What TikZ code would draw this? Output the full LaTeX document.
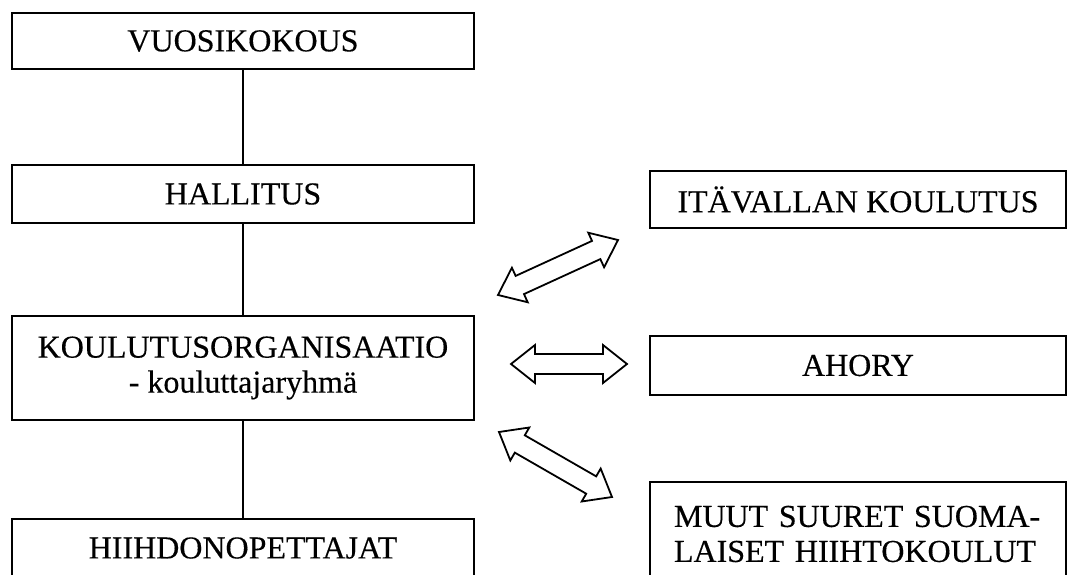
\documentclass[tikz,border=0pt]{standalone}
\usepackage{fontspec}
\setmainfont[FakeBold=0.3]{Liberation Serif}
\usetikzlibrary{calc}
\newcommand\arrHL{24pt}
\newcommand\arrHW{19pt}
\newcommand\arrSW{10pt}
\newcommand\blockarrow[2]{%
  \draw[blockarr]
    (#1)
    -- ($ ($(#1)!\arrHL!(#2)$)!\arrHW!90:(#2) $)
    -- ($ ($(#1)!\arrHL!(#2)$)!\arrSW!90:(#2) $)
    -- ($ ($(#2)!\arrHL!(#1)$)!\arrSW!-90:(#1) $)
    -- ($ ($(#2)!\arrHL!(#1)$)!\arrHW!-90:(#1) $)
    -- (#2)
    -- ($ ($(#2)!\arrHL!(#1)$)!\arrHW!90:(#1) $)
    -- ($ ($(#2)!\arrHL!(#1)$)!\arrSW!90:(#1) $)
    -- ($ ($(#1)!\arrHL!(#2)$)!\arrSW!-90:(#2) $)
    -- ($ ($(#1)!\arrHL!(#2)$)!\arrHW!-90:(#2) $)
    -- cycle;}
\begin{document}
\begin{tikzpicture}[x=1pt,y=-1pt,
  box/.style={draw, line width=1.7pt, inner sep=0pt,
    font=\fontsize{32}{35}\selectfont},
  leftbox/.style={box, minimum width=462pt},
  rightbox/.style={box, minimum width=416pt},
  conn/.style={line width=1.4pt},
  blockarr/.style={line width=1.8pt, line join=miter}]
\useasboundingbox (0,0) rectangle (1069,575);
\fill[white] (0,0) rectangle (1069,575);
% left column
\node[leftbox, minimum height=56pt] (vuosi) at (243,41) {VUOSIKOKOUS};
\node[leftbox, minimum height=58pt] (hall) at (243,194) {HALLITUS};
\node[leftbox, minimum height=104pt, align=center] (koul) at (243,368)
  {KOULUTUSORGANISAATIO\\- kouluttajaryhmä};
\node[leftbox, minimum height=58pt] (hiih) at (243,548) {HIIHDONOPETTAJAT};
% right column
\node[rightbox, minimum height=57pt] (itav) at (858,199.5) {ITÄVALLAN KOULUTUS};
\node[rightbox, minimum height=59pt] (ahory) at (858,365.5) {AHORY};
\node[rightbox, minimum height=104pt, text width=368pt, inner xsep=24pt, align=left] (muut) at (858,534)
  {MUUT SUURET SUOMA-\\LAISET HIIHTOKOULUT};
% connectors
\draw[conn] (vuosi.south) -- (hall.north);
\draw[conn] (hall.south) -- (koul.north);
\draw[conn] (koul.south) -- (hiih.north);
% block arrows
\coordinate (u1) at (498,295); \coordinate (u2) at (618,240);
\coordinate (m1) at (511,364); \coordinate (m2) at (627,364);
\coordinate (l1) at (499,432); \coordinate (l2) at (612,497);
\blockarrow{u1}{u2}
\blockarrow{m1}{m2}
\blockarrow{l1}{l2}
\end{tikzpicture}
\end{document}
